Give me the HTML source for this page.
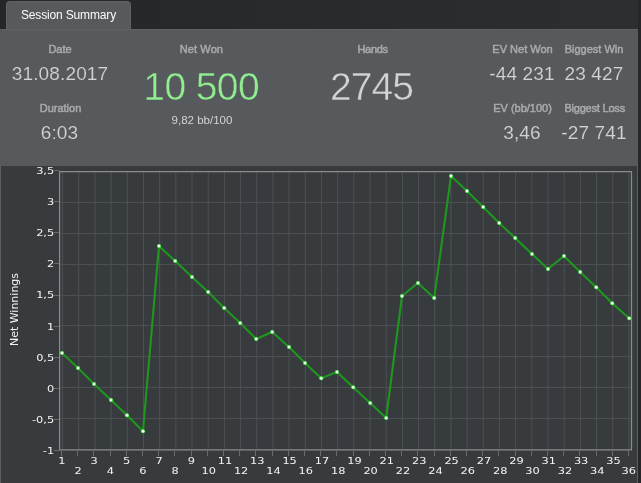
<!DOCTYPE html>
<html><head><meta charset="utf-8"><title>Session Summary</title>
<style>
html,body{margin:0;padding:0;}
body{width:641px;height:483px;overflow:hidden;background:#24282b;font-family:"Liberation Sans",sans-serif;position:relative;}
#top{position:absolute;left:0;top:0;width:638px;height:30px;background:linear-gradient(to right,#23272a,#2b2f32);}
#tab{position:absolute;left:6px;top:1px;width:125px;height:29px;box-sizing:border-box;background:#565a5d;border:1px solid #5f6366;border-bottom:none;border-radius:4px 4px 0 0;color:#fbfbfb;font-size:12px;letter-spacing:-0.16px;line-height:27px;text-align:center;}
#panel{position:absolute;left:0;top:29px;width:638px;height:137px;background:#565a5d;box-sizing:border-box;border-top:1px solid #5e6265;}
#plotbg{position:absolute;left:0;top:166px;width:638px;height:317px;background:#373b3e;border-left:1px solid #5b5f62;border-right:1px solid #5b5f62;box-sizing:border-box;}
.lbl{position:absolute;color:#a9a9a9;-webkit-text-stroke:0.5px #a9a9a9;font-size:11px;line-height:12px;white-space:nowrap;transform:translateX(-50%);}
.val{position:absolute;color:#d3d3d3;font-size:19px;line-height:20px;-webkit-text-stroke:0.12px #565a5d;letter-spacing:0.15px;white-space:nowrap;transform:translateX(-50%);}
.big{position:absolute;font-size:39px;line-height:40px;letter-spacing:-1px;white-space:nowrap;transform:translateX(-50%);color:#d3d3d3;-webkit-text-stroke:0.5px #565a5d;}
.sub{position:absolute;color:#d3d3d3;font-size:11.5px;line-height:12px;white-space:nowrap;transform:translateX(-50%);}
#chart{position:absolute;left:0;top:0;}
.ax text{font-family:"DejaVu Sans","Liberation Sans",sans-serif;font-size:9.4px;fill:#f4f4f4;}
</style></head><body>
<div id="top"></div>
<div id="tab">Session Summary</div>
<div id="panel"></div>
<div id="plotbg"></div>
<div class="lbl" style="left:60px;top:43px">Date</div>
<div class="val" style="left:60px;top:63.7px">31.08.2017</div>
<div class="lbl" style="left:60.5px;top:102px">Duration</div>
<div class="val" style="left:59.5px;top:122.7px">6:03</div>
<div class="lbl" style="left:201.4px;top:43px;letter-spacing:0.12px">Net Won</div>
<div class="big" style="left:201.2px;top:67px;color:#90ee90;letter-spacing:-0.6px">10 500</div>
<div class="sub" style="left:202px;top:114px">9,82 bb/100</div>
<div class="lbl" style="left:372.6px;top:43px;letter-spacing:-0.3px">Hands</div>
<div class="big" style="left:371.5px;top:67px">2745</div>
<div class="lbl" style="left:522.5px;top:43px">EV Net Won</div>
<div class="val" style="left:522px;top:63.7px">-44 231</div>
<div class="lbl" style="left:594px;top:43px">Biggest Win</div>
<div class="val" style="left:594px;top:63.7px">23 427</div>
<div class="lbl" style="left:522.5px;top:102px">EV (bb/100)</div>
<div class="val" style="left:522px;top:122.7px">3,46</div>
<div class="lbl" style="left:594.7px;top:102px;letter-spacing:-0.2px">Biggest Loss</div>
<div class="val" style="left:594px;top:122.7px">-27 741</div>
<svg id="chart" width="641" height="483" viewBox="0 0 641 483">
<path d="M62.6 172V449 M78.78 172V449 M94.96 172V449 M111.14 172V449 M127.32 172V449 M143.5 172V449 M159.68 172V449 M175.86 172V449 M192.04 172V449 M208.22 172V449 M224.4 172V449 M240.58 172V449 M256.76 172V449 M272.94 172V449 M289.12 172V449 M305.3 172V449 M321.48 172V449 M337.66 172V449 M353.84 172V449 M370.02 172V449 M386.2 172V449 M402.38 172V449 M418.56 172V449 M434.74 172V449 M450.92 172V449 M467.1 172V449 M483.28 172V449 M499.46 172V449 M515.64 172V449 M531.82 172V449 M548.0 172V449 M564.18 172V449 M580.36 172V449 M596.54 172V449 M612.72 172V449 M628.9 172V449" stroke="#4d5154" stroke-width="1" fill="none"/>
<path d="M60 202.5H631 M60 233.5H631 M60 264.5H631 M60 295.5H631 M60 325.5H631 M60 356.5H631 M60 387.5H631 M60 418.5H631" stroke="#4b4f52" stroke-width="1" fill="none"/>
<path d="M59.6 171V450.3 M59 171.6H632 M631.5 171V450.3 M59 449.8H632" stroke="#8c8c8c" stroke-width="1.2" fill="none"/>
<path d="M61.6 450.5V456 M77.8 450.5V456 M93.99 450.5V456 M110.19 450.5V456 M126.38 450.5V456 M142.57 450.5V456 M158.77 450.5V456 M174.97 450.5V456 M191.16 450.5V456 M207.35 450.5V456 M223.55 450.5V456 M239.75 450.5V456 M255.94 450.5V456 M272.13 450.5V456 M288.33 450.5V456 M304.53 450.5V456 M320.72 450.5V456 M336.92 450.5V456 M353.11 450.5V456 M369.31 450.5V456 M385.5 450.5V456 M401.7 450.5V456 M417.89 450.5V456 M434.09 450.5V456 M450.28 450.5V456 M466.48 450.5V456 M482.67 450.5V456 M498.87 450.5V456 M515.06 450.5V456 M531.25 450.5V456 M547.45 450.5V456 M563.64 450.5V456 M579.84 450.5V456 M596.04 450.5V456 M612.23 450.5V456 M628.43 450.5V456 M53.5 170.76H59 M53.5 201.83H59 M53.5 232.9H59 M53.5 263.96H59 M53.5 295.02H59 M53.5 326.09H59 M53.5 357.16H59 M53.5 388.22H59 M53.5 419.29H59 M53.5 450.35H59" stroke="#696c6e" stroke-width="1" fill="none" shape-rendering="crispEdges"/>
<g class="ax">
<text transform="translate(54.2,174.2) scale(1.21,1)" text-anchor="end">3,5</text>
<text transform="translate(54.2,205.2) scale(1.21,1)" text-anchor="end">3</text>
<text transform="translate(54.2,236.3) scale(1.21,1)" text-anchor="end">2,5</text>
<text transform="translate(54.2,267.4) scale(1.21,1)" text-anchor="end">2</text>
<text transform="translate(54.2,298.4) scale(1.21,1)" text-anchor="end">1,5</text>
<text transform="translate(54.2,329.5) scale(1.21,1)" text-anchor="end">1</text>
<text transform="translate(54.2,360.6) scale(1.21,1)" text-anchor="end">0,5</text>
<text transform="translate(54.2,391.6) scale(1.21,1)" text-anchor="end">0</text>
<text transform="translate(54.2,422.7) scale(1.21,1)" text-anchor="end">-0,5</text>
<text transform="translate(54.2,453.8) scale(1.21,1)" text-anchor="end">-1</text>
<text transform="translate(61.8,464) scale(1.21,1)" text-anchor="middle">1</text>
<text transform="translate(78.0,474.2) scale(1.21,1)" text-anchor="middle">2</text>
<text transform="translate(94.2,464) scale(1.21,1)" text-anchor="middle">3</text>
<text transform="translate(110.4,474.2) scale(1.21,1)" text-anchor="middle">4</text>
<text transform="translate(126.6,464) scale(1.21,1)" text-anchor="middle">5</text>
<text transform="translate(142.8,474.2) scale(1.21,1)" text-anchor="middle">6</text>
<text transform="translate(159.0,464) scale(1.21,1)" text-anchor="middle">7</text>
<text transform="translate(175.2,474.2) scale(1.21,1)" text-anchor="middle">8</text>
<text transform="translate(191.4,464) scale(1.21,1)" text-anchor="middle">9</text>
<text transform="translate(208.7,474.2) scale(1.21,1)" text-anchor="middle">10</text>
<text transform="translate(224.9,464) scale(1.21,1)" text-anchor="middle">11</text>
<text transform="translate(241.1,474.2) scale(1.21,1)" text-anchor="middle">12</text>
<text transform="translate(257.2,464) scale(1.21,1)" text-anchor="middle">13</text>
<text transform="translate(273.4,474.2) scale(1.21,1)" text-anchor="middle">14</text>
<text transform="translate(289.6,464) scale(1.21,1)" text-anchor="middle">15</text>
<text transform="translate(305.8,474.2) scale(1.21,1)" text-anchor="middle">16</text>
<text transform="translate(322.0,464) scale(1.21,1)" text-anchor="middle">17</text>
<text transform="translate(338.2,474.2) scale(1.21,1)" text-anchor="middle">18</text>
<text transform="translate(354.4,464) scale(1.21,1)" text-anchor="middle">19</text>
<text transform="translate(370.6,474.2) scale(1.21,1)" text-anchor="middle">20</text>
<text transform="translate(386.8,464) scale(1.21,1)" text-anchor="middle">21</text>
<text transform="translate(403.0,474.2) scale(1.21,1)" text-anchor="middle">22</text>
<text transform="translate(419.2,464) scale(1.21,1)" text-anchor="middle">23</text>
<text transform="translate(435.4,474.2) scale(1.21,1)" text-anchor="middle">24</text>
<text transform="translate(451.6,464) scale(1.21,1)" text-anchor="middle">25</text>
<text transform="translate(467.8,474.2) scale(1.21,1)" text-anchor="middle">26</text>
<text transform="translate(484.0,464) scale(1.21,1)" text-anchor="middle">27</text>
<text transform="translate(500.2,474.2) scale(1.21,1)" text-anchor="middle">28</text>
<text transform="translate(516.4,464) scale(1.21,1)" text-anchor="middle">29</text>
<text transform="translate(532.5,474.2) scale(1.21,1)" text-anchor="middle">30</text>
<text transform="translate(548.8,464) scale(1.21,1)" text-anchor="middle">31</text>
<text transform="translate(564.9,474.2) scale(1.21,1)" text-anchor="middle">32</text>
<text transform="translate(581.1,464) scale(1.21,1)" text-anchor="middle">33</text>
<text transform="translate(597.3,474.2) scale(1.21,1)" text-anchor="middle">34</text>
<text transform="translate(613.5,464) scale(1.21,1)" text-anchor="middle">35</text>
<text transform="translate(635.9,474.2) scale(1.21,1)" text-anchor="end">36</text>
<text transform="translate(18,309.5) rotate(-90)" text-anchor="middle" style="font-size:11px">Net Winnings</text>
</g>
<path d="M62 353 L78 368 L94 384 L111 400 L127 415.25 L143 431.25 L159 246 L175.2 261 L192 277 L208.2 292 L224.2 308 L240.2 323 L256.2 339 L272.2 332 L289 347 L305 363 L321.2 378.2 L337 372 L353.2 387.2 L370.2 403 L386.2 418 L402 296 L418 283 L434.2 298 L451 176 L467 191 L483.2 207 L499.2 223 L515.2 238 L532 254 L548 269 L564 256 L580.2 272 L596.2 287.2 L612.2 303.2 L629.2 318.2" stroke="#1f961f" stroke-width="2.1" fill="none" stroke-linejoin="round"/>
<circle cx="62" cy="353" r="2.05" fill="#58f058"/><circle cx="62" cy="353" r="1.2" fill="#ffffff"/>
<circle cx="78" cy="368" r="2.05" fill="#58f058"/><circle cx="78" cy="368" r="1.2" fill="#ffffff"/>
<circle cx="94" cy="384" r="2.05" fill="#58f058"/><circle cx="94" cy="384" r="1.2" fill="#ffffff"/>
<circle cx="111" cy="400" r="2.05" fill="#58f058"/><circle cx="111" cy="400" r="1.2" fill="#ffffff"/>
<circle cx="127" cy="415.25" r="2.05" fill="#58f058"/><circle cx="127" cy="415.25" r="1.2" fill="#ffffff"/>
<circle cx="143" cy="431.25" r="2.05" fill="#58f058"/><circle cx="143" cy="431.25" r="1.2" fill="#ffffff"/>
<circle cx="159" cy="246" r="2.05" fill="#58f058"/><circle cx="159" cy="246" r="1.2" fill="#ffffff"/>
<circle cx="175.2" cy="261" r="2.05" fill="#58f058"/><circle cx="175.2" cy="261" r="1.2" fill="#ffffff"/>
<circle cx="192" cy="277" r="2.05" fill="#58f058"/><circle cx="192" cy="277" r="1.2" fill="#ffffff"/>
<circle cx="208.2" cy="292" r="2.05" fill="#58f058"/><circle cx="208.2" cy="292" r="1.2" fill="#ffffff"/>
<circle cx="224.2" cy="308" r="2.05" fill="#58f058"/><circle cx="224.2" cy="308" r="1.2" fill="#ffffff"/>
<circle cx="240.2" cy="323" r="2.05" fill="#58f058"/><circle cx="240.2" cy="323" r="1.2" fill="#ffffff"/>
<circle cx="256.2" cy="339" r="2.05" fill="#58f058"/><circle cx="256.2" cy="339" r="1.2" fill="#ffffff"/>
<circle cx="272.2" cy="332" r="2.05" fill="#58f058"/><circle cx="272.2" cy="332" r="1.2" fill="#ffffff"/>
<circle cx="289" cy="347" r="2.05" fill="#58f058"/><circle cx="289" cy="347" r="1.2" fill="#ffffff"/>
<circle cx="305" cy="363" r="2.05" fill="#58f058"/><circle cx="305" cy="363" r="1.2" fill="#ffffff"/>
<circle cx="321.2" cy="378.2" r="2.05" fill="#58f058"/><circle cx="321.2" cy="378.2" r="1.2" fill="#ffffff"/>
<circle cx="337" cy="372" r="2.05" fill="#58f058"/><circle cx="337" cy="372" r="1.2" fill="#ffffff"/>
<circle cx="353.2" cy="387.2" r="2.05" fill="#58f058"/><circle cx="353.2" cy="387.2" r="1.2" fill="#ffffff"/>
<circle cx="370.2" cy="403" r="2.05" fill="#58f058"/><circle cx="370.2" cy="403" r="1.2" fill="#ffffff"/>
<circle cx="386.2" cy="418" r="2.05" fill="#58f058"/><circle cx="386.2" cy="418" r="1.2" fill="#ffffff"/>
<circle cx="402" cy="296" r="2.05" fill="#58f058"/><circle cx="402" cy="296" r="1.2" fill="#ffffff"/>
<circle cx="418" cy="283" r="2.05" fill="#58f058"/><circle cx="418" cy="283" r="1.2" fill="#ffffff"/>
<circle cx="434.2" cy="298" r="2.05" fill="#58f058"/><circle cx="434.2" cy="298" r="1.2" fill="#ffffff"/>
<circle cx="451" cy="176" r="2.05" fill="#58f058"/><circle cx="451" cy="176" r="1.2" fill="#ffffff"/>
<circle cx="467" cy="191" r="2.05" fill="#58f058"/><circle cx="467" cy="191" r="1.2" fill="#ffffff"/>
<circle cx="483.2" cy="207" r="2.05" fill="#58f058"/><circle cx="483.2" cy="207" r="1.2" fill="#ffffff"/>
<circle cx="499.2" cy="223" r="2.05" fill="#58f058"/><circle cx="499.2" cy="223" r="1.2" fill="#ffffff"/>
<circle cx="515.2" cy="238" r="2.05" fill="#58f058"/><circle cx="515.2" cy="238" r="1.2" fill="#ffffff"/>
<circle cx="532" cy="254" r="2.05" fill="#58f058"/><circle cx="532" cy="254" r="1.2" fill="#ffffff"/>
<circle cx="548" cy="269" r="2.05" fill="#58f058"/><circle cx="548" cy="269" r="1.2" fill="#ffffff"/>
<circle cx="564" cy="256" r="2.05" fill="#58f058"/><circle cx="564" cy="256" r="1.2" fill="#ffffff"/>
<circle cx="580.2" cy="272" r="2.05" fill="#58f058"/><circle cx="580.2" cy="272" r="1.2" fill="#ffffff"/>
<circle cx="596.2" cy="287.2" r="2.05" fill="#58f058"/><circle cx="596.2" cy="287.2" r="1.2" fill="#ffffff"/>
<circle cx="612.2" cy="303.2" r="2.05" fill="#58f058"/><circle cx="612.2" cy="303.2" r="1.2" fill="#ffffff"/>
<circle cx="629.2" cy="318.2" r="2.05" fill="#58f058"/><circle cx="629.2" cy="318.2" r="1.2" fill="#ffffff"/>
</svg>
</body></html>
